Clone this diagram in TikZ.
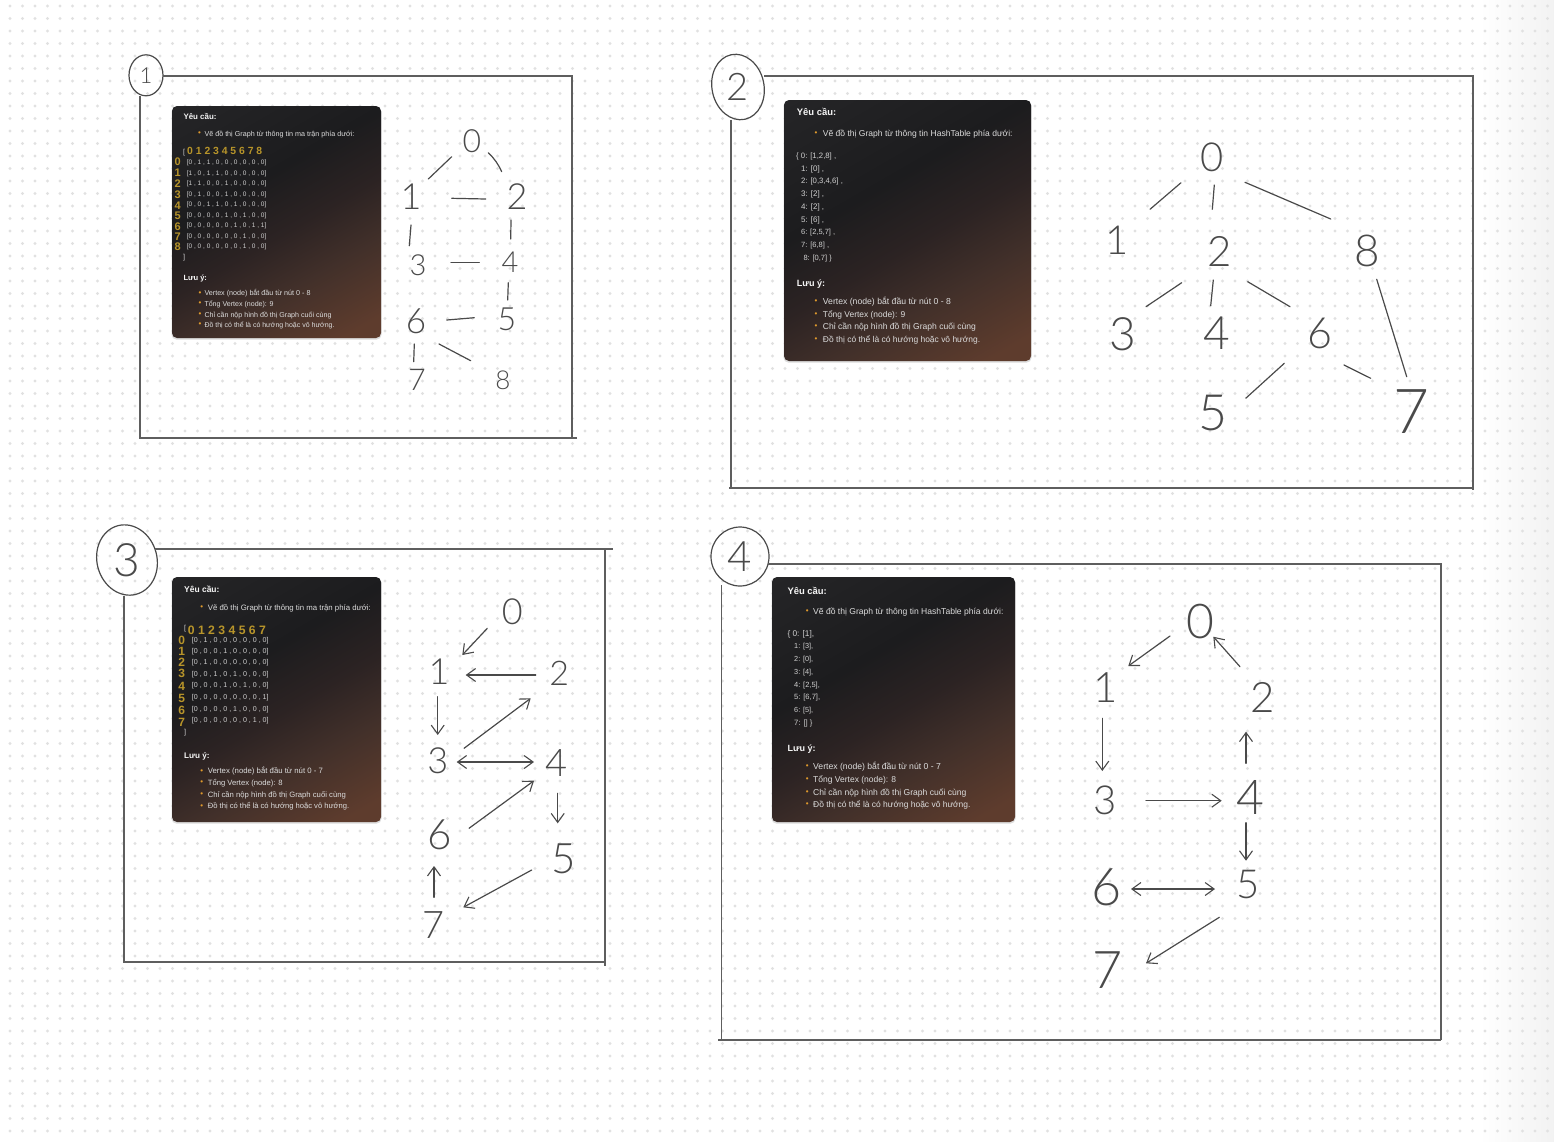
\documentclass[tikz,border=0pt]{standalone}
\usepackage{fontspec}
\usepackage{graphicx}
\usetikzlibrary{arrows.meta,shapes.geometric}
\setmainfont{Liberation Sans}
\newfontfamily\hand{Lato Light}
\definecolor{dotc}{HTML}{E1E1E1}
\definecolor{inkc}{HTML}{4A4A4A}
\definecolor{framec}{HTML}{5E5E5E}
\definecolor{itemc}{HTML}{DCDCDC}
\definecolor{tablec}{HTML}{D0D0D0}
\definecolor{headc}{HTML}{F6F6F6}
\definecolor{goldc}{HTML}{B8952A}
\definecolor{bulc}{HTML}{E09A2C}
\definecolor{shA}{HTML}{5E3C2D}
\definecolor{shB}{HTML}{42302A}
\definecolor{shC}{HTML}{2C2323}
\definecolor{shD}{HTML}{1C1C1E}
\definecolor{shE}{HTML}{252527}
\pgfdeclareverticalshading{panelshade}{100bp}{
 color(0bp)=(shA);
 color(20bp)=(shA);
 color(35bp)=(shB);
 color(47bp)=(shC);
 color(60bp)=(shD);
 color(84bp)=(shE);
 color(100bp)=(shE)}
\newcounter{tn}
\tikzset{
 txt/.style={inner sep=0pt,anchor=west},
 conn/.style={draw=inkc,line width=1.2pt,line cap=round},
 arr/.style={-{Straight Barb[length=9pt,width=13pt,line width=1.1pt]}},
 darr/.style={{Straight Barb[length=9pt,width=13pt,line width=1.1pt]}-{Straight Barb[length=9pt,width=13pt,line width=1.1pt]}},
 dig/.style={inner sep=0pt,text=inkc,font=\hand\fontsize{#1}{#1}\selectfont},
 oval/.style={ellipse,draw=inkc,line width=1.2pt,inner sep=0pt},
 framepath/.style={draw=framec,line width=1.2pt},
 panel/.style={shading=panelshade,shading angle=30,rounded corners=5pt},
 gold/.style={inner sep=0pt,text=goldc,font=\bfseries\fontsize{#1}{#1}\selectfont},
}
% text line squeezed to the reference width
\newcommand\tx[5][itemc]{\stepcounter{tn}\node[txt,text=#1] (t\arabic{tn}) at (#2,#3) {\resizebox{#4pt}{!}{\vphantom{Ấg}#5}};}
\newcommand\bl[2]{\stepcounter{tn}\node[inner sep=0pt,text=bulc,font=\fontsize{8}{8}\selectfont] (t\arabic{tn}) at (#1,#2) {•};}
\newcommand\gd[4]{\stepcounter{tn}\node[gold=#3] (t\arabic{tn}) at (#1,#2) {#4};}
\newcommand\link[5][]{\draw[conn,#1] ([shift={(#3)}]#2.center) -- ([shift={(#5)}]#4.center);}
\newcommand\panelbox[4]{%
 \fill[black!14,rounded corners=5pt] (#1-0.5,#2+1) rectangle (#3+0.5,#4+1.6);
 \path[panel] (#1,#2) rectangle (#3,#4);}
\begin{document}
\begin{tikzpicture}[x=1pt,y=-1pt]
\useasboundingbox (0,0) rectangle (1554,1141);
\fill[white] (0,0) rectangle (1554,1141);
\shade[left color=white,right color=black!5] (1480,0) rectangle (1554,1141);
% dot grid
\foreach \yy in {0,...,90}{
 \draw[dotc,line width=3.3pt,line cap=round,dash pattern=on 0pt off 12.5pt] (10,6+12.5*\yy) -- (1550,6+12.5*\yy);
}
% frame label circles
\node[oval,minimum width=34pt,minimum height=41pt] (l1) at (146,75.3) {};
\node[dig=22] at (l1.center) (l1t) {1};
\node[oval,minimum width=52pt,minimum height=66pt,rotate=12] (l2) at (738,87) {};
\node[dig=38] at (l2.center) (l2t) {2};
\node[oval,minimum width=60pt,minimum height=71pt,rotate=15] (l3) at (127,560) {};
\node[dig=46] at (l3.center) (l3t) {3};
\node[oval,minimum width=58pt,minimum height=59pt] (l4) at (740,556.5) {};
\node[dig=42] at (l4.center) (l4t) {4};
% frames
\draw[framepath] (163,76) -- (572,76) -- (572,438);
\draw[framepath] (577,438) -- (140,438) -- (140,96);
\draw[framepath] (764,76) -- (1473,76) -- (1473,490);
\draw[framepath] (729,488) -- (1473,488);
\draw[framepath] (731,120) -- (731,488);
\draw[framepath] (155,549) -- (613,549);
\draw[framepath] (605,549) -- (605,966);
\draw[framepath] (124,596) -- (124,962) -- (606,962);
\draw[framepath] (768,564) -- (1441,564) -- (1441,1040);
\draw[framepath] (718,1040) -- (1441,1040);
\draw[framepath] (721.5,585) -- (721.5,1040);
% panels
\panelbox{172}{106}{381}{338}
\panelbox{784}{100}{1031}{361}
\panelbox{172}{577}{381}{822}
\panelbox{772}{577}{1015}{822}
% ---- panel 1
\tx[headc]{183.3}{116.5}{33}{\bfseries Yêu cầu:}
\bl{199.5}{134}
\tx{204.3}{134}{150}{Vẽ đồ thị Graph từ thông tin ma trận  phía dưới:}
\tx[tablec]{183}{152}{2}{[}
\tx[goldc]{187}{151}{75}{\bfseries 0 1 2 3 4 5 6 7 8}
\gd{177.7}{161.3}{11}{0}\gd{177.7}{172.3}{11}{1}\gd{177.7}{183.3}{11}{2}\gd{177.7}{194.3}{11}{3}\gd{177.7}{206}{11}{4}\gd{177.7}{215.7}{11}{5}\gd{177.7}{226.7}{11}{6}\gd{177.7}{236.7}{11}{7}\gd{177.7}{246.7}{11}{8}
\tx[tablec]{186.7}{162.3}{79.5}{[0 , 1 , 1 , 0 , 0 , 0 , 0 , 0 , 0]}
\tx[tablec]{186.7}{173}{79.5}{[1 , 0 , 1 , 1 , 0 , 0 , 0 , 0 , 0]}
\tx[tablec]{186.7}{183.3}{79.5}{[1 , 1 , 0 , 0 , 1 , 0 , 0 , 0 , 0]}
\tx[tablec]{186.7}{194}{79.5}{[0 , 1 , 0 , 0 , 1 , 0 , 0 , 0 , 0]}
\tx[tablec]{186.7}{204.7}{79.5}{[0 , 0 , 1 , 1 , 0 , 1 , 0 , 0 , 0]}
\tx[tablec]{186.7}{215}{79.5}{[0 , 0 , 0 , 0 , 1 , 0 , 1 , 0 , 0]}
\tx[tablec]{186.7}{225.7}{79.5}{[0 , 0 , 0 , 0 , 0 , 1 , 0 , 1 , 1]}
\tx[tablec]{186.7}{236}{79.5}{[0 , 0 , 0 , 0 , 0 , 0 , 1 , 0 , 0]}
\tx[tablec]{186.7}{246.7}{79.5}{[0 , 0 , 0 , 0 , 0 , 0 , 1 , 0 , 0]}
\tx[tablec]{183}{257}{2}{]}
\tx[headc]{183.3}{278}{23.5}{\bfseries Lưu ý:}
\bl{200}{293.3}\tx{204.3}{293.3}{106}{Vertex (node) bắt đầu từ nút 0 - 8}
\bl{200}{304}\tx{204.3}{304}{69}{Tổng Vertex (node): 9}
\bl{200}{314.7}\tx{204.3}{314.7}{127}{Chỉ cần nộp hình đồ thị Graph cuối cùng}
\bl{200}{325}\tx{204.3}{325}{130}{Đồ thị có thể là có hướng hoặc vô hướng.}
% ---- panel 2
\tx[headc]{796.7}{112.3}{39.3}{\bfseries Yêu cầu:}
\bl{816}{133.3}
\tx{822.7}{133.3}{189.7}{Vẽ đồ thị Graph từ thông tin HashTable phía dưới:}
\tx[tablec]{796}{155.7}{40}{\{ 0: [1,2,8] ,}
\tx[tablec]{801}{168.3}{23}{1: [0] ,}
\tx[tablec]{801}{181}{41.7}{2: [0,3,4,6] ,}
\tx[tablec]{801}{194}{23}{3: [2] ,}
\tx[tablec]{801}{206.7}{23}{4: [2] ,}
\tx[tablec]{801}{219.3}{23}{5: [6] ,}
\tx[tablec]{801}{232}{34}{6: [2,5,7] ,}
\tx[tablec]{801}{245}{28}{7: [6,8] ,}
\tx[tablec]{803.3}{258.3}{28.3}{8: [0,7] \}}
\tx[headc]{796.7}{283.3}{28.3}{\bfseries Lưu ý:}
\bl{816}{301.7}\tx{822.7}{301.7}{128}{Vertex (node) bắt đầu từ nút 0 - 8}
\bl{816}{314.3}\tx{822.7}{314.3}{82.3}{Tổng Vertex (node): 9}
\bl{816}{327}\tx{822.7}{327}{153}{Chỉ cần nộp hình đồ thị Graph cuối cùng}
\bl{816}{340}\tx{822.7}{340}{157.3}{Đồ thị có thể là có hướng hoặc vô hướng.}
% ---- panel 3
\tx[headc]{184}{589.3}{35.3}{\bfseries Yêu cầu:}
\bl{201.7}{608}
\tx{207.7}{608}{163}{Vẽ đồ thị Graph từ thông tin ma trận  phía dưới:}
\tx[tablec]{184}{628}{2}{[}
\tx[goldc]{187.7}{630}{78}{\bfseries 0 1 2 3 4 5 6 7}
\gd{181.7}{640.3}{12}{0}\gd{181.7}{651}{12}{1}\gd{181.7}{662.7}{12}{2}\gd{181.7}{673.7}{12}{3}\gd{181.7}{686}{12}{4}\gd{181.7}{698}{12}{5}\gd{181.7}{710.3}{12}{6}\gd{181.7}{722}{12}{7}
\tx[tablec]{191.7}{639.7}{76.7}{[0 , 1 , 0 , 0 , 0 , 0 , 0 , 0]}
\tx[tablec]{191.7}{651}{76.7}{[0 , 0 , 0 , 1 , 0 , 0 , 0 , 0]}
\tx[tablec]{191.7}{662.3}{76.7}{[0 , 1 , 0 , 0 , 0 , 0 , 0 , 0]}
\tx[tablec]{191.7}{673.7}{76.7}{[0 , 0 , 1 , 0 , 1 , 0 , 0 , 0]}
\tx[tablec]{191.7}{685.3}{76.7}{[0 , 0 , 0 , 1 , 0 , 1 , 0 , 0]}
\tx[tablec]{191.7}{696.7}{76.7}{[0 , 0 , 0 , 0 , 0 , 0 , 0 , 1]}
\tx[tablec]{191.7}{708.7}{76.7}{[0 , 0 , 0 , 0 , 1 , 0 , 0 , 0]}
\tx[tablec]{191.7}{720.3}{76.7}{[0 , 0 , 0 , 0 , 0 , 0 , 1 , 0]}
\tx[tablec]{184}{732}{2}{]}
\tx[headc]{184}{755.3}{25.3}{\bfseries Lưu ý:}
\bl{201.7}{771.3}\tx{207.7}{771.3}{115}{Vertex (node) bắt đầu từ nút 0 - 7}
\bl{201.7}{783}\tx{207.7}{783}{74.7}{Tổng Vertex (node): 8}
\bl{201.7}{794.7}\tx{207.7}{794.7}{138}{Chỉ cần nộp hình đồ thị Graph cuối cùng}
\bl{201.7}{806.3}\tx{207.7}{806.3}{141.3}{Đồ thị có thể là có hướng hoặc vô hướng.}
% ---- panel 4
\tx[headc]{787.3}{591.3}{39.3}{\bfseries Yêu cầu:}
\bl{807.3}{612}
\tx{813}{612}{190.3}{Vẽ đồ thị Graph từ thông tin HashTable phía dưới:}
\tx[tablec]{787.3}{633.7}{26.7}{\{  0: [1],}
\tx[tablec]{794}{646}{19}{1: [3],}
\tx[tablec]{794}{658.7}{19}{2: [0],}
\tx[tablec]{794}{671.7}{19}{3: [4],}
\tx[tablec]{794}{684.7}{25.7}{4: [2,5],}
\tx[tablec]{794}{697.3}{26}{5: [6,7],}
\tx[tablec]{794}{710}{19}{6: [5],}
\tx[tablec]{794}{722.7}{18.3}{7: [] \}}
\tx[headc]{787.3}{748.7}{28}{\bfseries Lưu ý:}
\bl{807.3}{766.7}\tx{813}{766.7}{127.7}{Vertex (node) bắt đầu từ nút 0 - 7}
\bl{807.3}{779.7}\tx{813}{779.7}{83}{Tổng Vertex (node): 8}
\bl{807.3}{792.3}\tx{813}{792.3}{153.3}{Chỉ cần nộp hình đồ thị Graph cuối cùng}
\bl{807.3}{805}\tx{813}{805}{157.3}{Đồ thị có thể là có hướng hoặc vô hướng.}
% ---- graph 1
\node[dig=32] (a0) at (472,141) {0};
\node[dig=36] (a1) at (411,197) {1};
\node[dig=36] (a2) at (517,197) {2};
\node[dig=29] (a3) at (418,265) {3};
\node[dig=29] (a4) at (510,262) {4};
\node[dig=32] (a5) at (507,319) {5};
\node[dig=35] (a6) at (416,321) {6};
\node[dig=30] (a7) at (417,380) {7};
\node[dig=26] (a8) at (503,380) {8};
\link{a0}{-20.3,15.7}{a1}{17.3,-18}
\draw[conn] ([shift={(16.3,11.7)}]a0.center) to[bend left=10] ([shift={(-15.3,-25.3)}]a2.center);
\link{a1}{40.7,1.3}{a2}{-31.3,2}
\link{a1}{0,28}{a3}{-8.7,-19.3}
\link{a2}{-6,23}{a4}{0.7,-23}
\link{a3}{33,-2.7}{a4}{-30.7,0.3}
\link{a4}{-1.7,20.7}{a5}{0.7,-19}
\link{a6}{30.7,-1}{a5}{-32.7,-1.3}
\link{a6}{-1.7,23}{a7}{-3.3,-18.3}
\link{a6}{23,23}{a8}{-32.3,-19.3}
% ---- graph 2
\node[dig=40] (b0) at (1211.7,157.3) {0};
\node[dig=40] (b1) at (1116.7,240.7) {1};
\node[dig=42] (b2) at (1220,251.7) {2};
\node[dig=46] (b3) at (1122.7,334) {3};
\node[dig=46] (b4) at (1216.7,332.7) {4};
\node[dig=50] (b5) at (1213.3,412.7) {5};
\node[dig=43] (b6) at (1320,333.3) {6};
\node[dig=62] (b7) at (1411.7,411.7) {7};
\node[dig=44] (b8) at (1367.7,250.7) {8};
\link{b0}{-30.7,25.4}{b1}{33.3,-31.4}
\link{b0}{2.6,27.7}{b2}{-7.7,-42.4}
\link{b0}{33.3,25}{b8}{-37,-31.7}
\link{b2}{-38.3,31}{b3}{23.3,-27.3}
\link{b2}{-6.7,28.3}{b4}{-6,-27}
\link{b2}{27.7,30}{b6}{-30,-26.6}
\link{b6}{-35.7,30}{b5}{32.4,-14.4}
\link{b6}{24,31.7}{b7}{-41,-33.4}
\link{b8}{9,28.6}{b7}{-5,-35}
% ---- graph 3
\node[dig=36] (c0) at (512.3,611.7) {0};
\node[dig=36] (c1) at (439,671.7) {1};
\node[dig=34] (c2) at (559.3,673.3) {2};
\node[dig=36] (c3) at (437.7,760.7) {3};
\node[dig=38] (c4) at (556.7,762.7) {4};
\node[dig=42] (c5) at (563.3,858.3) {5};
\node[dig=42] (c6) at (440,835) {6};
\node[dig=38] (c7) at (433.3,925) {7};
\link[arr]{c0}{-25,16.6}{c1}{23.3,-16.7}
\link[arr]{c2}{-23.6,1.7}{c1}{26.7,3.3}
\link[arr]{c1}{-1.3,25}{c3}{0,-25.7}
\link[arr]{c3}{26.3,-12.4}{c2}{-28.6,25}
\link[darr]{c3}{19,1.3}{c4}{-22.7,-0.7}
\link[arr]{c6}{29,-6.7}{c4}{-22.7,18}
\link[arr]{c4}{1,30.6}{c5}{-5.6,-35}
\link[arr]{c5}{-31.6,11.7}{c7}{30,-17.7}
\link[arr]{c7}{0.7,-27.7}{c6}{-6,31}
% ---- graph 4
\node[dig=48] (d0) at (1200,621.7) {0};
\node[dig=42] (d1) at (1106,687.3) {1};
\node[dig=42] (d2) at (1262.7,697.3) {2};
\node[dig=40] (d3) at (1105,800) {3};
\node[dig=48] (d4) at (1250,797.3) {4};
\node[dig=40] (d5) at (1248.3,884) {5};
\node[dig=52] (d6) at (1106.7,887.3) {6};
\node[dig=52] (d7) at (1107.3,970) {7};
\link[arr]{d0}{-30,14.3}{d1}{22.3,-21.3}
\link[arr]{d2}{-22.7,-30.6}{d0}{13.3,15}
\link[arr]{d1}{-3.7,31}{d3}{-2.7,-29}
\link[arr]{d3}{41,0.7}{d4}{-28.3,3.4}
\link[arr]{d4}{-4,-34}{d2}{-16.7,34.4}
\link[arr]{d4}{-4,25.4}{d5}{-2.3,-23.3}
\link[darr]{d6}{24.3,1.7}{d5}{-33.3,5}
\link[arr]{d5}{-29,33.3}{d7}{38.7,-6.7}
\end{tikzpicture}
\end{document}
